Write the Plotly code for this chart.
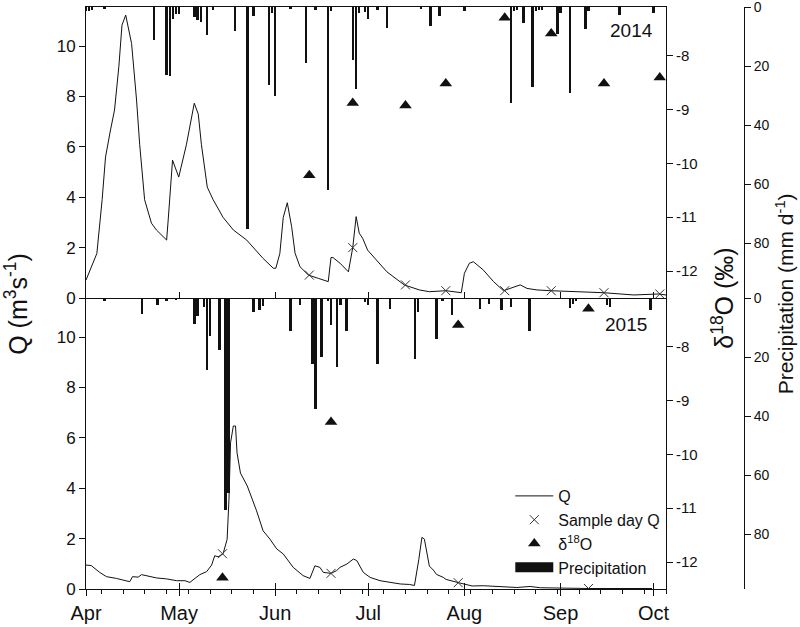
import plotly.graph_objects as go
import pandas as pd

# ---------------- data (days counted from 1 April) ----------------
START_2014 = "2014-04-01"
START_2015 = "2015-04-01"

q2014_day = [0, 3.5, 5.2, 6.3, 7.9, 9.2, 10.6, 11.6, 12.8, 14.7, 16.3, 17.3, 18.9, 21.1, 22.7,
             26.0, 26.5, 27.9, 29.9, 32.4, 34.9, 36.2, 37.2, 39.1, 41.0, 44.2, 47.5, 51.8, 57.1,
             60.4, 61.2, 62.5, 63.6, 64.9, 66.3, 67.4, 69.0, 71.7, 74.9, 78.1, 79.0, 79.7, 81.9,
             84.6, 86.0, 87.1, 88.1, 89.2, 90.8, 97.0, 102.6, 107.5, 110.7, 116.1, 121.0, 122.0,
             123.6, 124.9, 128.1, 131.4, 134.6, 140.0, 142.2, 145.4, 149.7, 157.2, 166.9, 176.6,
             184.6, 187.0]
q2014_val = [0.71, 1.77, 3.9, 5.6, 6.67, 7.46, 9.2, 10.83, 11.23, 10.1, 7.86, 6.1, 3.9, 2.97, 2.7,
             2.3, 3.1, 5.47, 4.8, 6.1, 7.73, 7.3, 6.1, 4.4, 3.9, 3.2, 2.7, 2.3, 1.57,
             1.18, 1.18, 1.77, 3.2, 3.78, 2.83, 1.78, 1.24, 0.91, 0.78, 0.65, 1.61, 1.6, 1.38,
             1.04, 2.0, 3.23, 2.57, 2.37, 1.9, 1.04, 0.52, 0.32, 0.25, 0.29, 0.21, 0.98,
             1.38, 1.44, 1.11, 0.65, 0.29, 0.52, 0.38, 0.32, 0.29, 0.25, 0.21, 0.12,
             0.16, 0.12]

q2015_day = [0, 1.7, 4.4, 6.6, 9.8, 13.0, 14.1, 15.0, 16.8, 17.9, 19.5, 22.7, 26.0, 29.2, 31.9,
             33.5, 34.5, 36.7, 38.9, 40.5, 41.5, 42.6, 44.2, 45.5, 46.1, 46.6, 47.5, 48.2, 48.7,
             49.8, 52.0, 55.0, 57.1, 59.3, 61.5, 63.6, 66.8, 70.0, 72.2, 73.8, 75.4, 76.5, 79.0,
             80.8, 81.9, 84.1, 86.2, 87.3, 89.4, 91.6, 94.8, 98.0, 101.3, 104.3, 105.9, 107.3,
             108.3, 109.1, 109.9, 110.7, 112.0, 113.0, 115.2, 116.1, 120.1, 124.5, 128.1, 138.9,
             143.2, 146.5, 161.9, 172.3, 182.5]
q2015_val = [0.95, 0.93, 0.66, 0.49, 0.42, 0.33, 0.29, 0.49, 0.47, 0.57, 0.53, 0.44, 0.40, 0.33, 0.33,
             0.26, 0.36, 0.57, 0.69, 0.95, 1.32, 1.28, 1.40, 1.97, 3.56, 5.8, 6.47, 6.47, 5.4,
             4.6, 4.09, 3.1, 2.31, 1.98, 1.59, 1.39, 0.86, 0.53, 0.42, 0.92, 0.86, 0.66, 0.62,
             0.73, 0.86, 0.99, 1.19, 1.13, 0.66, 0.46, 0.33, 0.26, 0.20, 0.18, 0.14, 1.17,
             2.05, 1.98, 1.39, 0.91, 0.75, 0.58, 0.46, 0.38, 0.25, 0.12, 0.13, 0.06,
             0.10, 0.05, 0.02, 0.03, 0.02]

sample2014_day = [72, 86, 103, 116, 135, 150, 167, 185]
sample2014_q = [0.91, 2.0, 0.52, 0.29, 0.29, 0.29, 0.21, 0.16]
d18o_2014 = [-10.22, -8.88, -8.93, -8.52, -7.30, -7.59, -8.52, -8.41]

sample2015_day = [44, 79, 120, 162]
sample2015_q = [1.40, 0.62, 0.25, 0.02]
d18o_2015 = [-12.29, -9.40, -7.60, -7.30]

p2014_day = [0, 1, 2, 6, 22, 26, 27, 28, 29, 30, 35, 36, 37, 39, 41, 48, 52, 54, 59, 60,
             61, 66, 71, 74, 78, 79, 86, 87, 88, 90, 91, 94, 97, 108, 111, 114, 122, 137, 138, 139,
             141, 144, 145, 146, 147, 152, 153, 156, 161, 162, 172, 183]
p2014_mm = [1.5, 1.5, 1.0, 0.5, 11, 23, 23.5, 4, 2.5, 2.2, 3.3, 4.4, 5, 9.5, 1, 8, 75, 3, 26.3, 2,
            30, 0.8, 19, 1, 62, 1.5, 18, 27.7, 2, 1.6, 4, 1, 7, 0.7, 6.5, 3, 1.5, 32.4, 1.5, 1,
            5.5, 27, 1.5, 1, 1, 9, 2, 29, 7.5, 1.5, 2.6, 2]

p2015_day = [6, 18, 23, 26, 29, 35, 36, 38, 39, 40, 43, 45, 46, 54, 56, 57, 66, 69, 73, 74,
             76, 78, 79, 81, 82, 84, 90, 91, 94, 98, 106, 107, 113, 115, 118, 127, 130, 134, 137, 143,
             156, 157, 158, 168, 169, 182]
p2015_mm = [1, 5.3, 2.5, 1, 0.7, 8.7, 6.1, 3, 24.3, 13, 17.5, 71.7, 66, 4.8, 3.9, 2.8, 11.2, 2.5, 22.3, 37.6,
            19.8, 1, 9, 23.5, 2.5, 11.2, 1.5, 2.5, 22.3, 3.6, 20.6, 4.8, 14, 1, 5.7, 3.6, 2, 4.2, 3, 11,
            3.4, 2, 1, 2.5, 3, 3.9]

q_ticks = [0, 2, 4, 6, 8, 10]
d_ticks = [-8, -9, -10, -11, -12]
d_ticktext = ["-8", "-9", "-10", "-11", "-12"]
p_ticks = [0, 20, 40, 60, 80]

assert len(q2014_day) == len(q2014_val)
assert len(q2015_day) == len(q2015_val)
assert len(p2014_day) == len(p2014_mm)
assert len(p2015_day) == len(p2015_mm)


def dates(start, days):
    return pd.Timestamp(start) + pd.to_timedelta(days, unit="D")


BLACK = "#111111"
XGRAY = "#333333"
FONT = "Liberation Sans, Arial, sans-serif"
DAY_MS = 86400000

x_marker = dict(symbol="x-thin-open", size=9, color=XGRAY, line=dict(color=XGRAY, width=1))
tri_marker = dict(symbol="triangle-up", size=11, color=BLACK)

fig = go.Figure()

# ---- 2014 ----
fig.add_trace(go.Scatter(x=dates(START_2014, q2014_day), y=q2014_val, mode="lines",
                         line=dict(color=BLACK, width=1), xaxis="x", yaxis="y", showlegend=False))
fig.add_trace(go.Scatter(x=dates(START_2014, sample2014_day), y=sample2014_q, mode="markers",
                         marker=x_marker, xaxis="x", yaxis="y", showlegend=False))
fig.add_trace(go.Scatter(x=dates(START_2014, sample2014_day), y=d18o_2014, mode="markers",
                         marker=tri_marker, xaxis="x", yaxis="y2", showlegend=False))
fig.add_trace(go.Bar(x=dates(START_2014, p2014_day), y=p2014_mm, width=0.8 * DAY_MS,
                     marker=dict(color=BLACK, line=dict(width=0)), xaxis="x", yaxis="y3", showlegend=False))

# ---- 2015 ----
fig.add_trace(go.Scatter(x=dates(START_2015, q2015_day), y=q2015_val, mode="lines", name="Q",
                         line=dict(color=BLACK, width=1), xaxis="x2", yaxis="y4"))
fig.add_trace(go.Scatter(x=dates(START_2015, sample2015_day), y=sample2015_q, mode="markers",
                         name="Sample day Q", marker=x_marker, xaxis="x2", yaxis="y4"))
fig.add_trace(go.Scatter(x=dates(START_2015, sample2015_day), y=d18o_2015, mode="markers",
                         name="δ<sup>18</sup>O", marker=tri_marker, xaxis="x2", yaxis="y5"))
fig.add_trace(go.Bar(x=dates(START_2015, p2015_day), y=p2015_mm, width=0.8 * DAY_MS,
                     marker=dict(color=BLACK, line=dict(width=0)), xaxis="x2", yaxis="y6",
                     showlegend=False))
# legend entry for precipitation (wide black box)
fig.add_trace(go.Scatter(x=[None], y=[None], mode="lines", name="Precipitation",
                         line=dict(color=BLACK, width=12), xaxis="x2", yaxis="y6"))
# helper trace for the inward month ticks of the bottom axis
fig.add_trace(go.Scatter(x=[None], y=[None], mode="markers", xaxis="x3", yaxis="y4",
                         showlegend=False, hoverinfo="skip"))

XD = [0, 0.8735]
axis_common = dict(showgrid=False, zeroline=False, showline=True, linecolor=BLACK, linewidth=1,
                   tickcolor=BLACK, tickwidth=1, automargin=False, ticklabeloverflow="allow")
range2014 = ["2014-04-01", "2014-10-05"]
range2015 = ["2015-04-01", "2015-10-05"]


def title_ann(text, x, y, size, angle=-90):
    return dict(text=text, xref="paper", yref="paper", x=x, y=y, xanchor="center",
                yanchor="middle", textangle=angle, showarrow=False, font=dict(size=size))


fig.update_layout(
    width=800, height=627,
    margin=dict(l=86, r=50, t=7, b=38, autoexpand=False),
    paper_bgcolor="white", plot_bgcolor="white",
    font=dict(family=FONT, size=16, color=BLACK),
    bargap=0,
    legend=dict(x=0.639, y=0.189, xanchor="left", yanchor="top", bgcolor="rgba(0,0,0,0)",
                font=dict(size=16, family=FONT), itemwidth=38, tracegroupgap=0,
                traceorder="normal"),
    xaxis=dict(domain=XD, anchor="y", type="date", range=range2014, dtick="M1", tick0="2014-04-01",
               ticks="inside", ticklen=6, showticklabels=False, mirror=True, **axis_common),
    xaxis2=dict(domain=XD, anchor="y4", type="date", range=range2015, dtick="M1", tick0="2015-04-01",
                ticks="outside", ticklen=6, tickformat="%b", tickfont=dict(size=20),
                minor=dict(ticks="outside", ticklen=4, dtick=7 * DAY_MS, tick0="2015-04-06",
                           tickcolor=BLACK, showgrid=False),
                **axis_common),
    xaxis3=dict(overlaying="x2", anchor="y4", type="date", range=range2015, dtick="M1",
                tick0="2015-04-01", ticks="inside", ticklen=6, showticklabels=False,
                showgrid=False, zeroline=False, showline=False, tickcolor=BLACK, automargin=False),
    yaxis=dict(domain=[0.5, 1], anchor="x", range=[0, 11.55], tickvals=q_ticks, ticks="outside",
               ticklen=6, tickfont=dict(size=17), **axis_common),
    yaxis2=dict(overlaying="y", anchor="x", side="right", range=[-12.5, -7.1], tickvals=d_ticks,
                ticktext=d_ticktext, ticks="outside", ticklen=6, tickfont=dict(size=15), **axis_common),
    yaxis3=dict(overlaying="y", anchor="free", position=0.991, side="right", range=[98.5, 0],
                tickvals=p_ticks, ticks="outside", ticklen=6, tickfont=dict(size=14), **axis_common),
    yaxis4=dict(domain=[0, 0.5], anchor="x2", range=[0, 11.55], tickvals=q_ticks, ticks="outside",
                ticklen=6, tickfont=dict(size=17), **axis_common),
    yaxis5=dict(overlaying="y4", anchor="x2", side="right", range=[-12.5, -7.1], tickvals=d_ticks,
                ticktext=d_ticktext, ticks="outside", ticklen=6, tickfont=dict(size=15), **axis_common),
    yaxis6=dict(overlaying="y4", anchor="free", position=0.991, side="right", range=[98.5, 0],
                tickvals=p_ticks, ticks="outside", ticklen=6, tickfont=dict(size=14), **axis_common),
    annotations=[
        title_ann("Q (m<sup>3</sup>s<sup>-1</sup>)", -0.1054, 0.49, 25),
        title_ann("δ<sup>18</sup>O (‰)", 0.959, 0.5, 25),
        title_ann("Precipitation (mm d<sup>-1</sup>)", 1.0527, 0.508, 21),
        title_ann("2014", 0.821, 0.959, 19, 0),
        title_ann("2015", 0.813, 0.455, 19, 0),
    ],
)

fig.write_html("out.html", config={"displayModeBar": False},
               post_script="document.body.style.margin='0px';")
